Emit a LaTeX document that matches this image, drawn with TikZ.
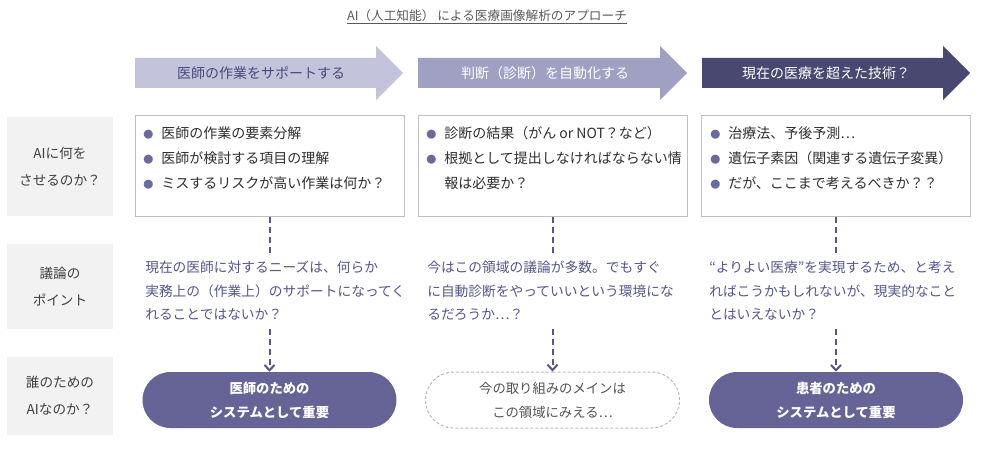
\documentclass[tikz,border=0pt]{standalone}
\usepackage{fontspec}
\setmainfont{Noto Sans CJK JP}
\usepackage{graphicx}
\usepackage{tikz}
\usetikzlibrary{positioning,shapes.misc,arrows.meta}

\definecolor{arA}{HTML}{C3C3DC}
\definecolor{arB}{HTML}{A0A0C2}
\definecolor{arC}{HTML}{484870}
\definecolor{arAtext}{HTML}{4A4A78}
\definecolor{pillc}{HTML}{666497}
\definecolor{bulc}{HTML}{6A6A9E}
\definecolor{notec}{HTML}{55558A}
\definecolor{labc}{HTML}{F2F2F2}

\newcommand{\bul}{\makebox[13.5pt][l]{\textcolor{bulc}{\scalebox{0.72}{●}}}}

\begin{document}
\begin{tikzpicture}[
		x=0.75pt,y=-0.75pt
		,every node/.append style={inner sep=0pt}
		,q/.style={fill=labc, minimum width=79.5pt, text=black!75, align=center, font=\fontsize{10.2pt}{20.25pt}\selectfont}
		,b/.style={draw=black!25, line width=0.75pt, minimum width=201.75pt, minimum height=75pt}
		,l/.style={anchor=north west, align=left, text=black!82, font=\fontsize{10.5pt}{18.75pt}\selectfont}
		,n/.style={anchor=north west, align=left, text=notec, inner ysep=6pt, font=\fontsize{10.3pt}{17.6pt}\selectfont}
		,p/.style={rounded rectangle, fill=pillc, text=white, minimum width=190.5pt, minimum height=42pt, align=center, font=\bfseries\fontsize{10pt}{18pt}\selectfont}
		,dp/.style={p, fill=none, draw=black!28, dash pattern=on 2.25pt off 1.5pt, line width=0.75pt, text=black!68, font=\fontsize{10pt}{18pt}\selectfont}
		,con/.style={draw=notec, line width=1.5pt, dash pattern=on 4.5pt off 3pt}
		,ar/.style={font=\fontsize{10.5pt}{12pt}\selectfont}
	]
		\useasboundingbox (0,0) rectangle (982,460);

		% title
		\node [text=black!65, font=\fontsize{9.5pt}{12pt}\selectfont] (title) at (487,17) {\underline{AI（人工知能） による医療画像解析のアプローチ}};

		% arrows
		\fill [arA] (135,58) -- (376,58) -- (376,46) -- (403,73) -- (376,100) -- (376,88) -- (135,88) -- cycle;
		\fill [arB] (418,58) -- (660,58) -- (660,46) -- (687,73) -- (660,100) -- (660,88) -- (418,88) -- cycle;
		\fill [arC] (702,58) -- (943,58) -- (943,46) -- (970,73) -- (943,100) -- (943,88) -- (702,88) -- cycle;
		\node [ar, text=arAtext] (a1) at (261,73) {医師の作業をサポートする};
		\node [ar, text=white] (a2) at (545,73) {判断（診断）を自動化する};
		\node [ar, text=white] (a3) at (826,73) {現在の医療を超えた技術？};

		% row labels
		\node [q, minimum height=74.25pt] (q1) at (60,166.5) {AIに何を\\させるのか？};
		\node [q, minimum height=63.75pt] (q2) at (60,286.5) {議論の\\ポイント};
		\node [q, minimum height=58.5pt] (q3) at (60,396) {誰のための\\AIなのか？};

		% boxes
		\node [b] (b1) at (269.5,166) {};
		\node [b] (b2) at (552.5,166) {};
		\node [b] (b3) at (836,166) {};
		\node [l] (l1) at (143,126) {\bul 医師の作業の要素分解\\\bul 医師が検討する項目の理解\\\bul ミスするリスクが高い作業は何か？};
		\node [l] (l2) at (426,126) {\bul 診断の結果（がん or NOT？など）\\\bul 根拠として提出しなければならない情\\\hspace*{13.5pt}報は必要か？};
		\node [l] (l3) at (710,126) {\bul 治療法、予後予測…\\\bul 遺伝子素因（関連する遺伝子変異）\\\bul だが、ここまで考えるべきか？？};

		% discussion
		\node [n] (d1) at (145,253) {現在の医師に対するニーズは、何らか\\実務上の（作業上）のサポートになってく\\れることではないか？};
		\node [n] (d2) at (427,253) {今はこの領域の議論が多数。でもすぐ\\に自動診断をやっていいという環境にな\\るだろうか…？};
		\node [n] (d3) at (709,253) {“よりよい医療”を実現するため、と考え\\ればこうかもしれないが、現実的なこと\\とはいえないか？};

		% who
		\node [p] (p1) at (269.5,400) {医師のための\\システムとして重要};
		\node [dp] (p2) at (552.5,400) {今の取り組みのメインは\\この領域にみえる…};
		\node [p] (p3) at (836,400) {患者のための\\システムとして重要};

		% connectors
		\draw [con] (b1.south) -- (b1.south |- d1.north);
		\draw [con] (b2.south) -- (b2.south |- d2.north);
		\draw [con] (b3.south) -- (b3.south |- d3.north);
		\draw [con, -{Straight Barb[length=4pt,width=7.5pt]}] (b1.south |- d1.south) -- (p1.north);
		\draw [con, -{Straight Barb[length=4pt,width=7.5pt]}] (b2.south |- d2.south) -- (p2.north);
		\draw [con, -{Straight Barb[length=4pt,width=7.5pt]}] (b3.south |- d3.south) -- (p3.north);
	\end{tikzpicture}
\end{document}
